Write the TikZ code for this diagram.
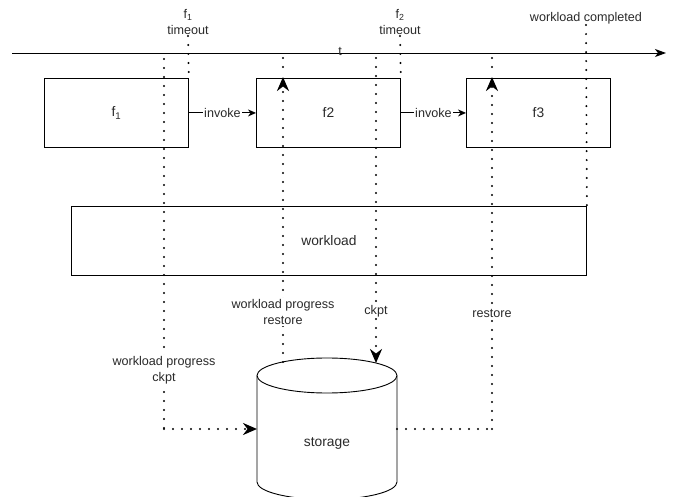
\documentclass[tikz,border=0pt]{standalone}
\usepackage{fontspec}
\setmainfont{Liberation Sans}
\usetikzlibrary{arrows.meta,calc}
\definecolor{txt}{HTML}{2A2A2A}
\newcommand{\labfont}{\fontsize{12.6}{16}\selectfont}
\newcommand{\boxfont}{\fontsize{13.8}{16}\selectfont}
\begin{document}
\begin{tikzpicture}[x=1pt,y=-1pt,
  box/.style={draw, line width=0.9pt, minimum width=144, minimum height=69, anchor=north west, inner sep=0pt, font=\boxfont, text=txt},
  lbl/.style={font=\labfont, text=txt, inner sep=1pt, align=center},
  elbl/.style={lbl, fill=white},
  dotline/.style={line width=2.2pt, dash pattern=on 0pt off 9pt, line cap=round},
  dtip/.style={-{Stealth[length=14pt, width=12pt, inset=4.5pt]}},
  solid arrow/.style={line width=0.9pt, -{Stealth[length=8pt, width=7pt, inset=2.5pt]}}
]
\useasboundingbox (0,0) rectangle (678,497);
% timeline
\coordinate (tl0) at (12,53);
\coordinate (tl1) at (666,53);
\draw[line width=0.9pt, -{Stealth[length=11pt, width=8pt, inset=3pt]}] (tl0) -- (tl1);
\node[lbl] (tlab) at (340,51) {t};
% function boxes
\node[box] (f1) at (44,78) {f\textsubscript{1}};
\node[box] (f2) at (256,78) {f2};
\node[box] (f3) at (466,78) {f3};
\node[box, minimum width=515] (wl) at (71,206) {workload};
% invoke arrows
\draw[solid arrow] (f1.east) -- node[elbl] {invoke} (f2.west);
\draw[solid arrow] (f2.east) -- node[elbl] {invoke} (f3.west);
% storage cylinder
\node[minimum width=140, minimum height=124, inner sep=0pt] (st) at (327,437) {};
\draw[line width=0.9pt] (257,375.5) -- (257,482) arc[start angle=180, end angle=0, x radius=70, y radius=17.5] -- (397,375.5);
\draw[line width=0.9pt, fill=white] (327,375.5) ellipse [x radius=70, y radius=17.5];
\node[lbl, font=\boxfont] (stlab) at (327,443) {storage};
% timeout / completed labels
\node[lbl, anchor=south] (t1) at (188,36) {f\textsubscript{1}\\timeout};
\node[lbl, anchor=south] (t2) at (400,36) {f\textsubscript{2}\\timeout};
\node[lbl] (wc) at (586,18) {workload completed};
\draw[dotline] (t1.south) -- (f1.north east);
\draw[dotline] (t2.south) -- (f2.north east);
\draw[dotline] (wc.south) -- (wl.north east);
% checkpoint from f1
\coordinate (a0) at (164,59);
\coordinate (a1) at (164,429);
\coordinate (sw) at (257,429);
\draw[dotline] (a0) -- (a1);
\draw[dotline, dtip] (a1) -- (sw);
\node[elbl] at (164,370) {workload progress\\ckpt};
% restore to f2
\coordinate (b0) at (283,362);
\coordinate (b1) at (283,77);
\coordinate (b2) at (283,58);
\draw[dotline, dtip] (b0) -- (b1);
\draw[dotline] (b2) -- (283,70);
\node[elbl] at (283,312) {workload progress\\restore};
% checkpoint from f2
\coordinate (c0) at (376,58);
\coordinate (c1) at (376,363);
\draw[dotline, dtip] (c0) -- (c1);
\node[elbl] at (376,311) {ckpt};
% restore to f3
\coordinate (d0) at (397,429);
\coordinate (d1) at (492,429);
\coordinate (d2) at (492,77);
\coordinate (d3) at (492,58);
\draw[dotline] (d0) -- (d1);
\draw[dotline, dtip] (d1) -- (d2);
\draw[dotline] (d3) -- (492,70);
\node[elbl] at (492,313) {restore};
\end{tikzpicture}
\end{document}
